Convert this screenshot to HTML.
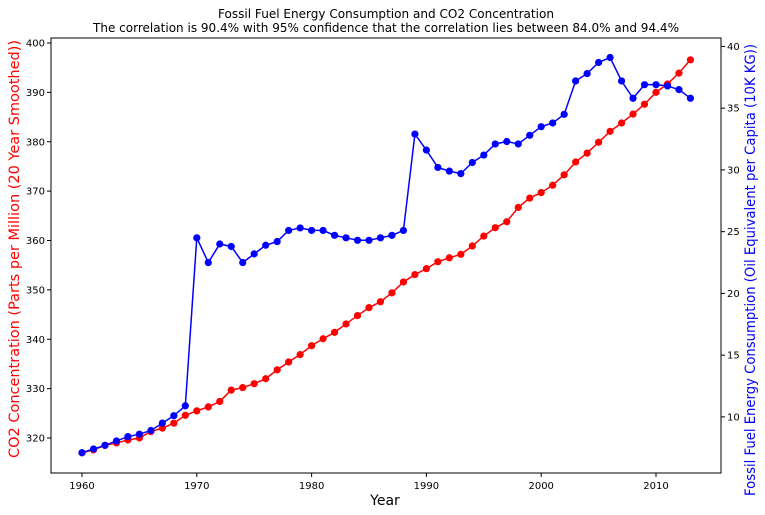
<!DOCTYPE html>
<html><head><meta charset="utf-8"><style>
body{margin:0;background:#fff}
svg{display:block;font-family:"DejaVu Sans","Liberation Sans",sans-serif}
</style></head><body>
<svg id="chart" width="765" height="515">
<text x="386" y="18" text-anchor="middle" font-size="12" textLength="336" lengthAdjust="spacingAndGlyphs">Fossil Fuel Energy Consumption and CO2 Concentration</text>
<text x="386" y="32" text-anchor="middle" font-size="12" textLength="586" lengthAdjust="spacingAndGlyphs">The correlation is 90.4% with 95% confidence that the correlation lies between 84.0% and 94.4%</text>
<rect x="51" y="38" width="670" height="435" fill="none" stroke="#000" stroke-width="1"/>
<g id="ticks"></g>
<g id="series"></g>
<text x="385" y="505" text-anchor="middle" font-size="14">Year</text>
<text transform="translate(19,249) rotate(-90)" text-anchor="middle" font-size="14" textLength="418" lengthAdjust="spacingAndGlyphs" fill="#f00">CO2 Concentration (Parts per Million (20 Year Smoothed))</text>
<text transform="translate(755,270) rotate(-90)" text-anchor="middle" font-size="14" textLength="452" lengthAdjust="spacingAndGlyphs" fill="#00f">Fossil Fuel Energy Consumption (Oil Equivalent per Capita (10K KG))</text>
</svg>
<script>
const years=[];for(let y=1960;y<=2013;y++)years.push(y);
const co2=[317,317.6,318.5,319,319.6,320,321.3,322,323,324.6,325.5,326.3,327.4,329.7,330.2,331,332,333.8,335.4,336.9,338.7,340.1,341.4,343.1,344.8,346.4,347.6,349.4,351.6,353.1,354.3,355.7,356.5,357.2,358.9,360.9,362.6,363.8,366.7,368.6,369.7,371.2,373.3,375.9,377.7,379.9,382.1,383.8,385.6,387.6,390,391.7,393.9,396.6];
const fuel=[7.1,7.4,7.7,8.05,8.4,8.6,8.9,9.5,10.1,10.9,24.5,22.5,24.0,23.8,22.5,23.2,23.9,24.2,25.1,25.3,25.1,25.1,24.7,24.5,24.3,24.3,24.5,24.7,25.1,32.9,31.6,30.2,29.9,29.7,30.6,31.2,32.1,32.3,32.1,32.8,33.5,33.8,34.5,37.2,37.8,38.7,39.1,37.2,35.8,36.9,36.9,36.8,36.5,35.8];
const xTicks=[1960,1970,1980,1990,2000,2010];
const leftTicks=[320,330,340,350,360,370,380,390,400];
const rightTicks=[10,15,20,25,30,35,40];
const X0=51,X1=721,Y0=473,Y1=38;
const xs=v=>82+(v-1960)*(574/50);
const yl=v=>438-(v-320)*4.9375;
const yr=v=>46.4+(40-v)*12.35;
const NS='http://www.w3.org/2000/svg';
function mk(tag,attrs,parent){const e=document.createElementNS(NS,tag);for(const k in attrs)e.setAttribute(k,attrs[k]);parent.appendChild(e);return e;}
const tg=document.getElementById('ticks');
xTicks.forEach(t=>{
  const l=mk('line',{x1:xs(t),x2:xs(t),y1:Y0,y2:Y0+4,stroke:'#000'},tg);
  
  
  const tx=mk('text',{x:xs(t),y:Y0+16,'text-anchor':'middle','font-size':10},tg);tx.textContent=t;
  
  
});
leftTicks.forEach(t=>{
  const l=mk('line',{x1:X0-4,x2:X0,y1:yl(t),y2:yl(t),stroke:'#000'},tg);
  
  
  const tx=mk('text',{x:X0-6,y:yl(t)+3.5,'text-anchor':'end','font-size':10},tg);tx.textContent=t;
  
  
});
rightTicks.forEach(t=>{
  const l=mk('line',{x1:X1,x2:X1+4,y1:yr(t),y2:yr(t),stroke:'#000'},tg);
  
  
  const tx=mk('text',{x:X1+6,y:yr(t)+3.5,'text-anchor':'start','font-size':10},tg);tx.textContent=t;
  
  
});
const sg=document.getElementById('series');
function draw(vals,yf,color,name){
  const p=mk('polyline',{points:vals.map((v,i)=>xs(years[i])+','+yf(v)).join(' '),fill:'none',stroke:color,'stroke-width':1.5},sg);
  
  
  vals.forEach((v,i)=>{
    const c=mk('circle',{cx:xs(years[i]),cy:yf(v),r:3.6,fill:color},sg);
    
    
  });
}
draw(co2,yl,'#f00','co2');
draw(fuel,yr,'#00f','fuel');
</script>
</body></html>
